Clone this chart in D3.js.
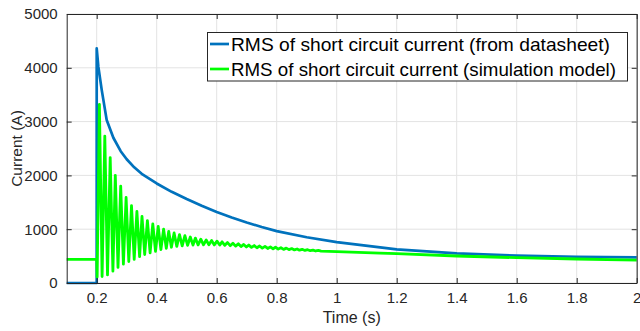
<!DOCTYPE html>
<html>
<head>
<meta charset="utf-8">
<script src="https://cdn.jsdelivr.net/npm/d3@7"></script>
<style>
  body { margin: 0; background: #fff; }
  svg { font-family: "Liberation Sans", Arial, Helvetica, sans-serif; }
</style>
</head>
<body>
<div id="chart"></div>
<script>
// tick values
const xTicks = [0.2, 0.4, 0.6, 0.8, 1, 1.2, 1.4, 1.6, 1.8, 2];
const yTicks = [0, 1000, 2000, 3000, 4000, 5000];

// datasheet RMS curve (blue)
const sheetTime = [0.1, 0.2, 0.2, 0.2055, 0.2167, 0.2333, 0.2555, 0.28, 0.3, 0.325, 0.35, 0.4, 0.45,
  0.5, 0.55, 0.6, 0.65, 0.7, 0.75, 0.8, 0.9, 1.0, 1.2, 1.4, 1.6, 1.8, 2.0];
const sheetValue = [0, 0, 4360, 4020, 3590, 3030, 2700, 2450, 2300, 2150, 2030, 1850, 1695,
  1560, 1435, 1320, 1218, 1125, 1040, 965, 850, 760, 625, 552, 510, 488, 475];

// simulation model (green): steady part, oscillation peaks/troughs, tail
const simStartTime = [0.1, 0.2, 0.2015];
const simStartValue = [440, 440, 110];

const peakTime = [0.209, 0.227, 0.245, 0.262, 0.280, 0.298, 0.316, 0.334, 0.351, 0.369, 0.387, 0.405,
  0.423, 0.440, 0.458, 0.476, 0.494, 0.512, 0.529, 0.547, 0.565, 0.583, 0.601, 0.618, 0.636, 0.654,
  0.672, 0.690, 0.707, 0.725, 0.743, 0.761, 0.779, 0.796, 0.814, 0.832, 0.850, 0.868, 0.885, 0.903,
  0.921, 0.939];
const peakValue = [3320, 2730, 2330, 2000, 1800, 1590, 1440, 1330, 1240, 1160, 1100, 1050,
  1000, 960, 930, 900, 880, 855, 835, 815, 800, 790, 778, 765, 752, 740,
  728, 716, 705, 696, 688, 680, 672, 664, 656, 648, 640, 633, 626, 619,
  612, 605];

const troughTime = [0.218, 0.236, 0.254, 0.271, 0.289, 0.307, 0.325, 0.343, 0.360, 0.378, 0.396, 0.414,
  0.432, 0.449, 0.467, 0.485, 0.503, 0.521, 0.538, 0.556, 0.574, 0.592, 0.610, 0.627, 0.645, 0.663,
  0.681, 0.699, 0.716, 0.734, 0.752, 0.770, 0.788, 0.805, 0.823, 0.841, 0.859, 0.876, 0.894, 0.912,
  0.930, 0.948];
const troughValue = [120, 150, 220, 290, 350, 400, 440, 490, 530, 560, 590, 620,
  645, 665, 680, 690, 700, 705, 708, 710, 710, 708, 705, 700, 693, 686,
  678, 670, 662, 655, 648, 642, 636, 630, 625, 620, 615, 610, 605, 600,
  595, 592];

const simTailTime = [1.0, 1.144, 1.2, 1.4, 1.6, 1.8, 2.0];
const simTailValue = [584, 557, 545, 502, 470, 446, 427];

const legendLabels = ["RMS of short circuit current (from datasheet)",
  "RMS of short circuit current (simulation model)"];
const legendWidths = [379, 385];
const colors = ["#0072BD", "#00FF00"];

const W = 640, H = 331;
const margin = {top: 14, right: 3.3, bottom: 48, left: 66.7};

const svg = d3.select('#chart')
  .append('svg')
  .attr('width', W)
  .attr('height', H);

const x = d3.scaleLinear()
  .domain([0.1, 2])
  .range([margin.left, W - margin.right]);

const y = d3.scaleLinear()
  .domain([0, 5000])
  .range([H - margin.bottom, margin.top]);

// build series
const sheetData = sheetTime.map((t, i) => [t, sheetValue[i]]);
let simData = simStartTime.map((t, i) => [t, simStartValue[i]]);
peakTime.forEach((t, i) => {
  simData.push([t, peakValue[i]]);
  simData.push([troughTime[i], troughValue[i]]);
});
simData = simData.concat(simTailTime.map((t, i) => [t, simTailValue[i]]));

// grid
const grid = svg.append('g').attr('stroke', '#e3e3e3').attr('stroke-width', 1);
grid.selectAll('.vg').data(xTicks).enter().append('line')
  .attr('x1', (d) => x(d)).attr('x2', (d) => x(d))
  .attr('y1', y(0)).attr('y2', y(5000));
grid.selectAll('.hg').data(yTicks).enter().append('line')
  .attr('x1', x(0.1)).attr('x2', x(2))
  .attr('y1', (d) => y(d)).attr('y2', (d) => y(d));

// lines
const line = d3.line().x((d) => x(d[0])).y((d) => y(d[1]));

svg.append('path')
  .datum(sheetData)
  .attr('d', line)
  .attr('fill', 'none')
  .attr('stroke', colors[0])
  .attr('stroke-width', 2.7)
  .attr('stroke-linejoin', 'round');

svg.append('path')
  .datum(simData)
  .attr('d', line)
  .attr('fill', 'none')
  .attr('stroke', colors[1])
  .attr('stroke-width', 2.8)
  .attr('stroke-linejoin', 'round');

// axes, matlab style box with inward ticks
const axisColor = '#262626';
const gBottom = svg.append('g')
  .attr('transform', `translate(0,${y(0)})`)
  .call(d3.axisBottom(x).tickValues(xTicks).tickSizeInner(-5).tickSizeOuter(0).tickPadding(9)
    .tickFormat(d3.format('')));
const gTop = svg.append('g')
  .attr('transform', `translate(0,${y(5000)})`)
  .call(d3.axisTop(x).tickValues(xTicks).tickSizeInner(-5).tickSizeOuter(0).tickFormat(''));
const gLeft = svg.append('g')
  .attr('transform', `translate(${x(0.1)},0)`)
  .call(d3.axisLeft(y).tickValues(yTicks).tickSizeInner(-5).tickSizeOuter(0).tickPadding(9)
    .tickFormat(d3.format('d')));
const gRight = svg.append('g')
  .attr('transform', `translate(${x(2)},0)`)
  .call(d3.axisRight(y).tickValues(yTicks).tickSizeInner(-5).tickSizeOuter(0).tickFormat(''));

[gBottom, gTop, gLeft, gRight].forEach((g) => {
  g.select('.domain').attr('stroke', axisColor).attr('stroke-width', 1);
  g.selectAll('.tick line').attr('stroke', axisColor);
  g.selectAll('.tick text').attr('fill', axisColor).attr('font-size', 15)
    .attr('font-family', '"Liberation Sans", Arial, sans-serif');
});

// axis labels
svg.append('text')
  .attr('x', (x(0.1) + x(2)) / 2)
  .attr('y', 323)
  .attr('text-anchor', 'middle')
  .attr('fill', axisColor)
  .attr('font-size', 16)
  .text('Time (s)');

svg.append('text')
  .attr('transform', `translate(22,${(y(0) + y(5000)) / 2}) rotate(-90)`)
  .attr('text-anchor', 'middle')
  .attr('fill', axisColor)
  .attr('font-size', 15.5)
  .text('Current (A)');

// legend
const leg = svg.append('g');
leg.append('rect')
  .attr('x', 207.5).attr('y', 32.5)
  .attr('width', 420).attr('height', 48.5)
  .attr('fill', '#fff')
  .attr('stroke', axisColor)
  .attr('stroke-width', 1);

legendLabels.forEach((lab, i) => {
  const ly = 44 + i * 25;
  leg.append('line')
    .attr('x1', 210).attr('x2', 229)
    .attr('y1', ly).attr('y2', ly)
    .attr('stroke', colors[i])
    .attr('stroke-width', 2.7);
  leg.append('text')
    .attr('x', 231)
    .attr('y', ly + 6.5)
    .attr('fill', '#000')
    .attr('font-size', 18.5)
    .attr('textLength', legendWidths[i])
    .attr('lengthAdjust', 'spacingAndGlyphs')
    .text(lab);
});
</script>
</body>
</html>
